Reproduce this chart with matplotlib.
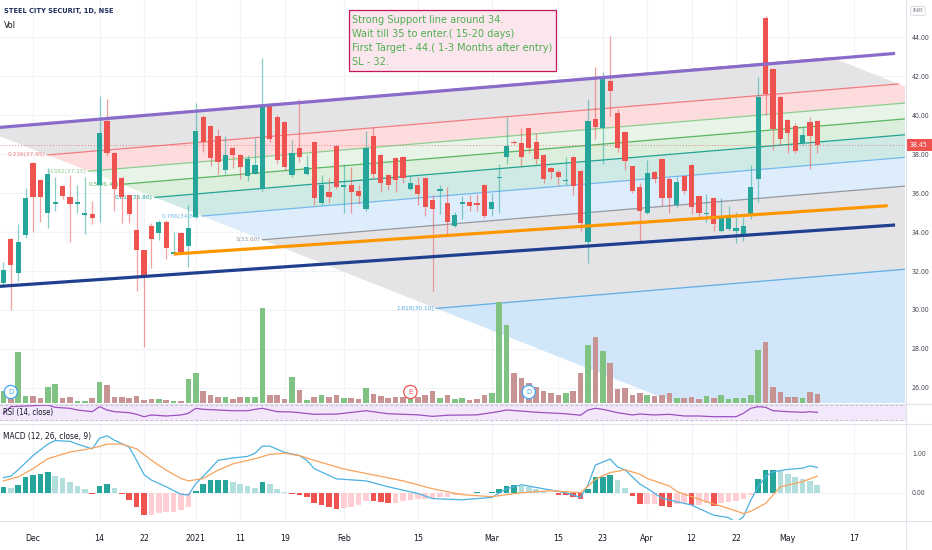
import matplotlib
matplotlib.use("Agg")
import matplotlib.pyplot as plt
from matplotlib import font_manager
from matplotlib.patches import Polygon, Rectangle
from matplotlib.lines import Line2D
import pandas as pd

# ---------------------------------------------------------------- data
TITLE = "STEEL CITY SECURIT, 1D, NSE"
FIRST_DAY = "2020-11-24"
LAST_CAL_DAY = "2021-06-15"
HOLIDAYS = ["2020-11-30", "2020-12-25", "2021-01-26", "2021-03-11",
            "2021-03-29", "2021-04-02", "2021-04-14", "2021-04-21",
            "2021-05-13"]

opens = [31.4, 33.64, 31.9, 33.85, 37.54, 36.67, 34.97, 35.45, 36.36, 35.8,
         35.45, 34.85, 34.9, 36.4, 39.7, 38.05, 36.77, 35.9, 34.1, 33.1,
         34.3, 33.95, 34.5, 32.85, 33.95, 33.28, 34.77, 39.9, 39.44, 38.9,
         37.18, 38.3, 37.95, 36.87, 37.0, 36.2, 40.5, 39.9, 39.64, 36.9,
         38.3, 37.0, 38.6, 35.5, 36.05, 38.4, 36.3, 36.4, 36.1, 35.2,
         38.9, 37.95, 36.9, 37.8, 37.85, 36.2, 36.4, 36.77, 35.64, 36.1,
         35.5, 34.3, 35.44, 35.54, 35.5, 36.4, 35.18, 36.77, 37.85, 38.62,
         38.56, 39.33, 38.6, 37.95, 37.3, 37.1, 36.6, 37.85, 37.13, 33.5,
         39.8, 39.33, 41.74, 40.1, 39.13, 37.38, 36.3, 34.97, 37.08, 37.74,
         36.7, 35.38, 36.87, 37.44, 35.85, 34.92, 35.74, 34.05, 34.15, 34.05,
         33.85, 34.92, 36.72, 45.0, 42.36, 40.92, 39.74, 39.44, 38.56, 39.64,
         39.7]
highs = [32.45, 33.7, 34.4, 36.26, 37.6, 36.7, 37.3, 36.8, 36.4, 36.9,
         36.4, 36.8, 35.6, 41.0, 40.8, 38.1, 36.8, 35.9, 35.9, 33.1,
         34.46, 34.6, 34.6, 34.0, 34.0, 35.4, 40.6, 40.0, 39.5, 39.3,
         38.9, 38.35, 38.0, 37.95, 38.8, 42.9, 40.55, 40.0, 39.7, 38.7,
         40.8, 37.95, 38.65, 36.9, 36.77, 38.45, 37.5, 37.33, 36.4, 39.2,
         39.4, 38.0, 37.0, 37.85, 37.9, 36.9, 36.8, 36.8, 35.9, 36.4,
         36.3, 35.05, 35.85, 35.9, 35.95, 36.45, 36.0, 37.5, 39.9, 38.7,
         39.33, 39.35, 39.1, 38.0, 37.35, 37.2, 37.85, 37.9, 37.2, 40.8,
         42.46, 42.2, 44.05, 40.3, 39.2, 37.4, 36.5, 37.7, 37.15, 37.8,
         36.8, 36.8, 36.9, 37.5, 35.9, 35.95, 35.8, 35.74, 35.33, 35.03,
         34.77, 37.44, 41.95, 45.1, 42.4, 41.0, 39.8, 39.6, 39.38, 39.9,
         39.75]
lows = [31.2, 30.0, 31.5, 33.7, 34.0, 34.5, 34.2, 35.1, 35.7, 33.5,
        35.0, 33.9, 34.4, 34.5, 37.9, 35.1, 34.46, 34.46, 31.0, 28.1,
        32.15, 33.6, 32.6, 32.85, 32.9, 32.2, 34.7, 38.1, 37.4, 37.0,
        37.0, 37.3, 36.7, 36.6, 36.95, 36.1, 38.6, 37.5, 37.2, 36.8,
        37.6, 36.9, 35.4, 35.4, 35.5, 36.2, 35.0, 35.0, 35.44, 35.1,
        36.7, 36.05, 36.15, 36.05, 36.5, 36.15, 35.4, 34.8, 31.0, 34.9,
        33.9, 34.25, 34.67, 35.1, 35.1, 34.7, 34.8, 35.0, 37.5, 38.5,
        37.38, 38.05, 37.5, 36.5, 36.7, 36.4, 36.4, 35.9, 34.05, 32.4,
        38.77, 37.5, 39.95, 38.1, 37.18, 36.0, 33.54, 34.9, 36.5, 35.33,
        34.97, 35.3, 35.95, 34.92, 34.72, 34.5, 34.05, 34.0, 34.1, 33.44,
        33.54, 34.67, 35.54, 40.0, 38.2, 38.46, 38.05, 38.05, 38.46, 37.23,
        38.05]
closes = [32.05, 32.3, 33.5, 35.74, 35.8, 35.8, 36.97, 35.55, 35.85, 35.44,
          35.55, 34.95, 34.7, 39.1, 38.05, 36.2, 35.8, 34.9, 33.1, 31.7,
          33.64, 34.5, 33.2, 32.95, 33.0, 34.2, 39.2, 38.6, 37.8, 37.6,
          37.95, 37.95, 37.33, 37.74, 37.43, 40.5, 38.77, 37.7, 37.33, 38.05,
          37.85, 37.33, 35.75, 36.4, 35.8, 36.3, 36.4, 36.05, 35.85, 38.3,
          36.97, 36.5, 36.4, 36.67, 36.77, 36.5, 35.95, 35.28, 35.2, 36.2,
          34.5, 34.87, 35.54, 35.33, 35.4, 34.8, 35.54, 36.82, 38.4, 38.55,
          37.85, 38.3, 37.74, 36.7, 37.1, 36.8, 36.67, 36.36, 34.46, 39.7,
          39.4, 41.95, 41.23, 38.3, 37.64, 36.1, 35.1, 37.03, 36.72, 35.74,
          35.74, 36.56, 36.1, 35.28, 34.97, 34.97, 34.4, 34.77, 34.8, 34.2,
          34.3, 36.3, 40.92, 41.1, 39.28, 38.77, 39.08, 38.15, 39.0, 38.92,
          38.45]
volumes = [12, 15, 51, 7, 7, 5, 16, 19, 5, 6,
           2, 2, 5, 21, 18, 6, 6, 5, 7, 3,
           4, 4, 3, 2, 2, 24, 30, 12, 8, 6,
           6, 4, 6, 6, 6, 95, 8, 8, 4, 26,
           13, 3, 6, 8, 6, 8, 5, 5, 4, 15,
           9, 7, 5, 6, 6, 4, 6, 8, 12, 5,
           8, 4, 5, 3, 4, 8, 10, 101, 78, 30,
           25, 20, 16, 12, 10, 8, 10, 12, 30, 58,
           66, 52, 40, 14, 15, 8, 10, 8, 7, 8,
           10, 5, 5, 6, 4, 7, 5, 8, 4, 5,
           5, 8, 53, 61, 16, 11, 6, 6, 5, 11,
           9]
rsi_idx = [0, 1, 4, 6, 7, 9, 10, 12, 13, 14, 15, 17, 18, 19, 20, 22, 24, 25,
           26, 27, 29, 31, 33, 34, 35, 37, 39, 40, 42, 45, 49, 52, 56, 58, 60,
           64, 67, 68, 72, 76, 78, 79, 80, 81, 83, 85, 86, 88, 90, 92, 94, 96,
           99, 100, 101, 102, 103, 104, 106, 108, 109, 110]
rsi_val = [49, 67, 69.5, 71, 65, 62.5, 58, 53.5, 67, 58, 53.5, 50.8, 46.5,
           40.1, 44.7, 42, 44.7, 49.2, 62.5, 59.8, 58, 56, 56, 59.8, 62.5,
           53.5, 52.7, 50.8, 46.5, 47, 56, 48, 45, 41, 44, 45, 54, 58, 52,
           48, 44, 58, 62.5, 59.8, 50.8, 44.7, 47.3, 44.7, 46.5, 42, 42,
           40.1, 40.1, 49.2, 62.5, 66.9, 65.2, 56.1, 53.5, 51.8, 53.5, 51.8]
macd_idx = [0, 1, 2, 4, 6, 7, 9, 10, 12, 13, 14, 15, 17, 18, 19, 20, 22, 24,
            25, 26, 28, 29, 31, 33, 34, 35, 36, 38, 40, 41, 42, 45, 49, 52,
            56, 58, 62, 66, 68, 70, 73, 76, 78, 79, 80, 82, 83, 84, 86, 87,
            89, 91, 93, 94, 96, 98, 99, 100, 101, 102, 103, 104, 106, 108,
            109, 110]
macd_val = [0.38, 0.42, 0.58, 0.94, 1.23, 1.32, 1.3, 1.23, 1.11, 1.38, 1.44,
            1.33, 1.15, 0.82, 0.46, 0.32, 0.15, -0.04, -0.06, 0.23, 0.61,
            0.82, 0.88, 0.92, 1.0, 1.18, 1.18, 1.02, 0.94, 0.82, 0.61, 0.35,
            0.3, 0.15, -0.02, -0.15, -0.18, -0.12, 0.1, 0.2, 0.1, 0.0, -0.12,
            0.2, 0.7, 0.85, 0.65, 0.58, 0.22, 0.11, -0.14, -0.23, -0.31, -0.4,
            -0.57, -0.63, -0.75, -0.61, -0.19, 0.15, 0.41, 0.53, 0.59, 0.62,
            0.68, 0.64]
signal_idx = [0, 2, 4, 6, 9, 11, 13, 14, 16, 18, 20, 22, 24, 25, 27, 29, 31,
              34, 36, 38, 40, 42, 46, 50, 54, 58, 62, 66, 70, 74, 78, 80, 82,
              84, 86, 87, 90, 91, 93, 95, 97, 99, 100, 101, 103, 104, 105,
              108, 110]
signal_val = [0.3, 0.4, 0.61, 0.86, 1.03, 1.09, 1.17, 1.23, 1.23, 1.11, 0.82,
              0.57, 0.36, 0.3, 0.36, 0.57, 0.73, 0.86, 0.97, 1.0, 0.94, 0.82,
              0.6, 0.45, 0.3, 0.1, -0.05, -0.1, 0.0, 0.05, 0.0, 0.34, 0.51,
              0.58, 0.47, 0.36, 0.17, 0.03, -0.1, -0.23, -0.34, -0.46, -0.53,
              -0.47, -0.27, -0.06, 0.15, 0.28, 0.42]
hist = [0.15, 0.13, 0.19, 0.4, 0.46, 0.48, 0.53, 0.43, 0.36, 0.28,
        0.18, 0.09, -0.03, 0.18, 0.23, 0.12, -0.03, -0.18, -0.35, -0.56,
        -0.56, -0.52, -0.5, -0.5, -0.45, -0.35, 0.05, 0.23, 0.32, 0.32,
        0.32, 0.28, 0.22, 0.18, 0.13, 0.28, 0.22, 0.1, 0.02, -0.03,
        -0.06, -0.12, -0.27, -0.31, -0.36, -0.4, -0.38, -0.35, -0.3, -0.2,
        -0.22, -0.24, -0.25, -0.25, -0.22, -0.18, -0.15, -0.15, -0.14, -0.1,
        -0.1, -0.06, -0.03, 0.0, 0.02, 0.0, 0.03, 0.1, 0.18, 0.2,
        0.18, 0.15, 0.1, 0.03, -0.02, -0.05, -0.07, -0.1, -0.15, 0.1,
        0.4, 0.4, 0.46, 0.32, 0.13, -0.08, -0.28, -0.28, -0.28, -0.33,
        -0.35, -0.28, -0.27, -0.31, -0.31, -0.27, -0.33, -0.27, -0.23, -0.2,
        -0.17, -0.07, 0.34, 0.57, 0.58, 0.55, 0.48, 0.39, 0.35, 0.3,
        0.2]

date_ticks = [("2020-12-01", "Dec"), ("2020-12-14", "14"), ("2020-12-22", "22"),
              ("2021-01-01", "2021"), ("2021-01-11", "11"), ("2021-01-19", "19"),
              ("2021-02-01", "Feb"), ("2021-02-15", "15"), ("2021-03-01", "Mar"),
              ("2021-03-15", "15"), ("2021-03-23", "23"), ("2021-04-01", "Apr"),
              ("2021-04-12", "12"), ("2021-04-22", "22"), ("2021-05-03", "May"),
              ("2021-05-17", "17")]

# fib channel: base line (bar, price) -> (bar, price), shift per unit level
fib_start = (-3.0, 39.295)
fib_end = (112.0, 42.94)
fib_shift = (38.0, -5.694)
fib_levels = [0, 0.236, 0.382, 0.5, 0.618, 0.786, 1, 1.618, 2.618]
fib_prices = [39.30, 37.95, 37.15, 36.45, 35.80, 34.85, 33.60, 30.10, 24.40]
fib_lines = ["#9598a1", "#f17c80", "#8ccf8f", "#5db561", "#21a392", "#74b9ec",
             "#9598a1", "#5eaee0", "#5eaee0"]
fib_fills = ["#e4e4e7", "#fcdcdd", "#e7f4e7", "#dcefdc", "#cfe9e5", "#deedfb",
             "#e4e4e7", "#d2e6fa"]

trend_purple = [(-1.0, 39.35), (120.5, 43.16)]
trend_navy = [(-1.0, 31.2), (120.5, 34.36)]
trend_orange = [(23.0, 32.87), (119.5, 35.35)]

note_lines = ["Strong Support line around 34.",
              "Wait till 35 to enter.( 15-20 days)",
              "First Target - 44.( 1-3 Months after entry)",
              "SL - 32."]
last_price = 38.45
events = [(1, "D", "#42a5f5"), (55, "E", "#ef5350"), (71, "D", "#42a5f5")]

# ---------------------------------------------------------------- style
UP = "#26a69a"
DOWN = "#ef5350"
GRID = "#f0f3fa"
SEP = "#e0e3eb"
TXT = "#131722"
W, H = 932, 550


def pick_font():
    names = [(f.name, str(f.stretch)) for f in font_manager.fontManager.ttflist]
    if any(nm == "Liberation Sans Narrow" for nm, _ in names):
        return {"family": "Liberation Sans Narrow"}
    if any(nm == "DejaVu Sans" and st == "condensed" for nm, st in names):
        return {"family": "DejaVu Sans", "stretch": "condensed"}
    return {"family": "Liberation Sans"}


FONT = pick_font()


def rect(x0, y0, x1, y1):
    return [x0 / W, 1 - y1 / H, (x1 - x0) / W, (y1 - y0) / H]


def fig_xy(x, y):
    return x / W, 1 - y / H


trading_days = pd.bdate_range(FIRST_DAY, LAST_CAL_DAY)
trading_days = trading_days[~trading_days.isin(pd.to_datetime(HOLIDAYS))]
tick_pos = [trading_days.get_loc(pd.Timestamp(d)) for d, _ in date_ticks]
tick_lab = [lab for _, lab in date_ticks]
n = len(closes)
xs = list(range(n))
XLIM = (-0.46, 121.84)

fig = plt.figure(figsize=(W / 100, H / 100), dpi=100)
renderer = fig.canvas.get_renderer()


def size_for(text, width_px, **kw):
    # font size giving the text roughly the width it has on the reference
    t = fig.text(0, 0, text, fontsize=10, **kw)
    w = t.get_window_extent(renderer).width
    t.remove()
    return 10 * width_px / w


ax = fig.add_axes(rect(0, 0, 905, 403))
ax_vol = fig.add_axes(rect(0, 0, 905, 403))
ax_rsi = fig.add_axes(rect(0, 404, 905, 423))
ax_macd = fig.add_axes(rect(0, 425, 905, 520))

for a in (ax, ax_rsi, ax_macd):
    a.set_xlim(*XLIM)
    for s in a.spines.values():
        s.set_visible(False)
    a.set_xticks(tick_pos)
    a.tick_params(length=0)
    for p in tick_pos:
        a.axvline(p, color=GRID, lw=0.8, zorder=0)

axis_fs = size_for("44.00", 18, **FONT)
date_fs = size_for("2021", 20, **FONT)
fib_fs = size_for("0.236(37.95)", 38, **FONT)

# ------------------------------------------------------------ main pane
ax.set_ylim(25.23, 45.9)
ax.yaxis.tick_right()
price_ticks = list(range(26, 45, 2))
ax.set_yticks(price_ticks)
ax.set_yticklabels(["%.2f" % p for p in price_ticks], **FONT)
ax.tick_params(axis="y", labelsize=axis_fs, labelcolor="#434651", pad=5)
ax.set_xticklabels([])
for p in price_ticks:
    ax.axhline(p, color=GRID, lw=0.8, zorder=0)


def fib_point(k, base):
    return (base[0] + fib_shift[0] * k, base[1] + fib_shift[1] * k)


for j in range(len(fib_levels) - 1):
    k1, k2 = fib_levels[j], fib_levels[j + 1]
    poly = [fib_point(k1, fib_start), fib_point(k1, fib_end),
            fib_point(k2, fib_end), fib_point(k2, fib_start)]
    ax.add_patch(Polygon(poly, closed=True, facecolor=fib_fills[j],
                         edgecolor="none", zorder=1))
for k, price, col in zip(fib_levels, fib_prices, fib_lines):
    p0 = fib_point(k, fib_start)
    p1 = fib_point(k, fib_end)
    ax.plot([p0[0], p1[0]], [p0[1], p1[1]], color=col, lw=0.9, zorder=2)
    if XLIM[0] < p0[0] - 5 and 25.5 < p0[1]:
        ax.text(p0[0] - 0.3, p0[1], "%g(%.2f)" % (k, price), color=col,
                fontsize=fib_fs, ha="right", va="center", zorder=2, **FONT)

ax.axhline(last_price, color=DOWN, lw=0.7, ls=(0, (1, 2)), alpha=0.7, zorder=2)

# candles
for i in xs:
    o, h, l, c = opens[i], highs[i], lows[i], closes[i]
    col = UP if c >= o else DOWN
    ax.plot([i, i], [l, h], color=col, lw=0.9, alpha=0.55, zorder=3,
            solid_capstyle="butt")
    ax.bar(i, max(abs(c - o), 0.07), bottom=min(o, c), width=0.68,
           color=col, edgecolor="none", zorder=4)

for line, col in ((trend_purple, "#8b6bc9"), (trend_navy, "#1f3f8f"),
                  (trend_orange, "#ff9800")):
    ax.plot([line[0][0], line[1][0]], [line[0][1], line[1][1]], color=col,
            lw=2.3, solid_capstyle="butt", zorder=5)

# volume overlay (own transparent axes on top of the price pane)
ax_vol.set_xlim(*XLIM)
ax_vol.set_ylim(0, 403)
ax_vol.axis("off")
ax_vol.patch.set_visible(False)
vol_cols = ["#7fc282" if closes[i] >= opens[i] else "#c89393" for i in xs]
ax_vol.bar(xs, volumes, width=0.74, color=vol_cols, edgecolor="none", zorder=2)
for idx, letter, col in events:
    ax_vol.text(idx, 11, letter, color=col, fontsize=5, ha="center",
                va="center", zorder=6, family="Liberation Sans",
                bbox=dict(boxstyle="circle,pad=0.45", fc="white", ec=col, lw=0.9))

# ------------------------------------------------------------ RSI pane
ax_rsi.set_ylim(23.3, 74)
ax_rsi.set_yticks([])
ax_rsi.set_xticklabels([])
ax_rsi.fill_between(XLIM, 30, 70, color="#f3e8fb", zorder=0)
for lvl in (30, 70):
    ax_rsi.axhline(lvl, color="#b7b2c4", lw=0.6, ls=(0, (3, 3)), zorder=1)
ax_rsi.plot(rsi_idx, rsi_val, color="#9c4fc0", lw=0.9, zorder=3)

# ------------------------------------------------------------ MACD pane
ax_macd.set_ylim(-0.691, 1.714)
ax_macd.yaxis.tick_right()
ax_macd.set_yticks([0, 1])
ax_macd.set_yticklabels(["0.00", "1.00"], **FONT)
ax_macd.tick_params(axis="y", labelsize=axis_fs, labelcolor="#434651", pad=5)
ax_macd.set_xticklabels(tick_lab, **FONT)
ax_macd.tick_params(axis="x", labelsize=date_fs, labelcolor=TXT, pad=10)
for lvl in (0, 1):
    ax_macd.axhline(lvl, color=GRID, lw=0.8, zorder=0)
hist_cols = []
for i in xs:
    prev = hist[i - 1] if i else hist[i]
    if hist[i] >= 0:
        hist_cols.append("#26a69a" if hist[i] >= prev else "#b2dfdb")
    else:
        hist_cols.append("#ffcdd2" if hist[i] >= prev else "#ef5350")
ax_macd.bar(xs, hist, width=0.78, color=hist_cols, edgecolor="none", zorder=2)
ax_macd.plot(macd_idx, macd_val, color="#4cb2e0", lw=0.9, zorder=3)
ax_macd.plot(signal_idx, signal_val, color="#f7a35c", lw=0.9, zorder=3)

# ------------------------------------------------------------ chrome
for y in (403.5, 423.5, 520.5):
    fig.add_artist(Line2D([0, 1], [1 - y / H] * 2, color=SEP, lw=0.8))
fig.add_artist(Line2D([905.5 / W] * 2, [0, 1], color=SEP, lw=0.8))

labels = [(TITLE, 4, 11, 108, "#1e2d5a", "bold"),
          ("Vol", 4, 25, 12, TXT, "normal"),
          ("RSI (14, close)", 3, 413, 50, TXT, "normal"),
          ("MACD (12, 26, close, 9)", 3, 436, 88, TXT, "normal")]
for text, x, y, width, col, weight in labels:
    fs = size_for(text, width, weight=weight, **FONT)
    fig.text(*fig_xy(x, y), text, fontsize=fs, color=col, va="center",
             ha="left", weight=weight, **FONT)

fig.text(*fig_xy(918, 11), "INR", fontsize=4.5, color="#787b86", ha="center",
         va="center", family="Liberation Sans",
         bbox=dict(boxstyle="round,pad=0.3", fc="white", ec="#d1d4dc", lw=0.6))

y_last = 37 + (44 - last_price) * 19.5
fig.add_artist(Rectangle(fig_xy(905.5, y_last + 6), 26.5 / W, 12 / H,
                         transform=fig.transFigure, fc=DOWN, ec="none"))
fig.text(*fig_xy(918.5, y_last), "%.2f" % last_price, fontsize=axis_fs,
         color="white", ha="center", va="center", **FONT)

# note box
fig.add_artist(Rectangle(fig_xy(348.5, 70.5), 207 / W, 60 / H,
                         transform=fig.transFigure, fc="#fce6ee",
                         ec="#c2185b", lw=0.9))
note_fs = size_for(note_lines[2], 201, **FONT)
for j, line in enumerate(note_lines):
    fig.text(*fig_xy(352, 20 + 14 * j), line, fontsize=note_fs,
             color="#4caf50", ha="left", va="center", **FONT)

fig.savefig("out.png", dpi=100)
